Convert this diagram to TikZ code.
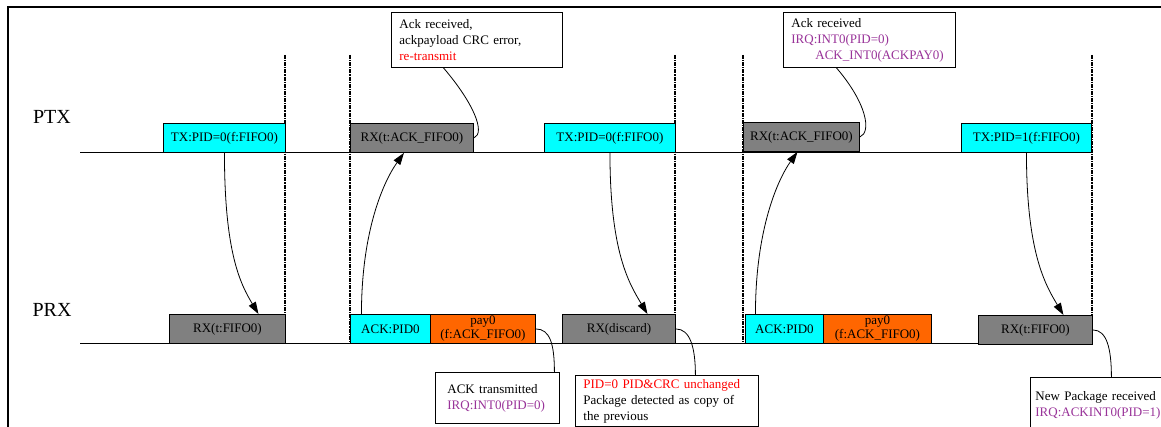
\documentclass[tikz,border=0pt]{standalone}
\usepackage{fontspec}
\setmainfont{Liberation Serif}
\usetikzlibrary{arrows.meta}
\definecolor{cyanc}{RGB}{0,255,255}
\definecolor{grayc}{RGB}{128,128,128}
\definecolor{orangec}{RGB}{255,102,0}
\definecolor{purplec}{RGB}{153,51,153}
\definecolor{redc}{RGB}{255,0,0}
\tikzset{
  blk/.style={draw=black, line width=0.9pt, minimum height=29pt, inner sep=0pt, anchor=north west, font=\fontsize{13}{14}\selectfont},
  txb/.style={blk, fill=cyanc},
  rxb/.style={blk, fill=grayc},
  payb/.style={blk, fill=orangec, align=center},
  note/.style={draw=black, line width=0.8pt, anchor=north west, align=left, inner xsep=8pt, inner ysep=0pt, font=\fontsize{13}{16}\selectfont},
  vdash/.style={line width=1.3pt, dash pattern=on 4pt off 1pt on 1.2pt off 1pt},
  axis/.style={line width=0.9pt},
  link/.style={line width=0.8pt},
  arr/.style={line width=0.8pt, -{Triangle[length=12pt,width=8pt]}},
  lab/.style={font=\fontsize{20}{20}\selectfont},
}
\begin{document}
\begin{tikzpicture}[x=1pt,y=-1pt]
\clip (0,0) rectangle (1161,427);
\fill[white] (0,0) rectangle (1161,427);
% frame
\draw[line width=2pt] (8,427) -- (8,7) -- (1161,7);
% labels
\node[lab] (ptx) at (52,117) {PTX};
\node[lab] (prx) at (52,310) {PRX};
% time lines
\coordinate (ptxs) at (80,152);
\coordinate (prxs) at (80,343);
\coordinate (ptxe) at (1091,152);
\coordinate (prxe) at (1092,343);
\draw[axis] (ptxs) -- (ptxe);
\draw[axis] (prxs) -- (prxe);
% dashed verticals
\coordinate (d1t) at (285,55); \coordinate (d1b) at (285,343);
\coordinate (d2t) at (350,55); \coordinate (d2b) at (350,343);
\coordinate (d3t) at (675,55); \coordinate (d3b) at (675,343);
\coordinate (d4t) at (743,55); \coordinate (d4b) at (743,343);
\coordinate (d5t) at (1092,55); \coordinate (d5b) at (1092,343);
\draw[vdash] (d1t) -- (d1b);
\draw[vdash] (d2t) -- (d2b);
\draw[vdash] (d3t) -- (d3b);
\draw[vdash] (d4t) -- (d4b);
\draw[vdash] (d5t) -- (d5b);
% PTX boxes
\node[txb, minimum width=122pt] (tx1) at (163,123) {TX:PID=0(f:FIFO0)};
\node[rxb, minimum width=123pt] (rx2) at (350,123) {RX(t:ACK\_FIFO0)};
\node[txb, minimum width=131pt] (tx2) at (544,123) {TX:PID=0(f:FIFO0)};
\node[rxb, minimum width=116pt] (rx4) at (743,122) {RX(t:ACK\_FIFO0)};
\node[txb, minimum width=130pt] (tx3) at (961,123) {TX:PID=1(f:FIFO0)};
% PRX boxes
\node[rxb, minimum width=116pt] (rx1) at (169,314) {RX(t:FIFO0)};
\node[txb, minimum width=80pt] (ack1) at (350,314) {ACK:PID0};
\node[payb, minimum width=105pt] (pay1) at (430,314) {pay0\\(f:ACK\_FIFO0)};
\node[rxb, minimum width=113pt] (rxd) at (562,314) {RX(discard)};
\node[txb, minimum width=78pt] (ack2) at (745,314) {ACK:PID0};
\node[payb, minimum width=108pt] (pay2) at (823,314) {pay0\\(f:ACK\_FIFO0)};
\node[rxb, minimum width=114pt] (rx5) at (978,315) {RX(t:FIFO0)};
% arrows
\draw[arr] (tx1.south) .. controls +(0,100) and +(-18,-30) .. ([xshift=31pt]rx1.north);
\draw[arr] ([xshift=-29pt]ack1.north) .. controls +(0,-84) and +(-20,28) .. ([xshift=-8pt]rx2.south);
\draw[arr] (tx2.south) .. controls +(0,100) and +(-18,-30) .. ([xshift=28.5pt]rxd.north);
\draw[arr] ([xshift=-29pt]ack2.north) .. controls +(0,-84) and +(-20,28) .. ([xshift=-4pt]rx4.south);
\draw[arr] (tx3.south) .. controls +(0,100) and +(-18,-30) .. ([xshift=28pt]rx5.north);
% notes
\node[note, text width=155pt, minimum height=55pt] (n1) at (391,12)
  {Ack received,\\ackpayload CRC error,\\\textcolor{redc}{re-transmit}};
\node[note, text width=156pt, minimum height=55pt] (n2) at (783,12)
  {Ack received\\\textcolor{purplec}{IRQ:INT0(PID=0)}\\\hspace*{24pt}\textcolor{purplec}{ACK\_INT0(ACKPAY0)}};
\node[note, inner xsep=12pt, text width=100pt, minimum height=51pt] (n3) at (435,372)
  {ACK transmitted\\\textcolor{purplec}{IRQ:INT0(PID=0)}};
\node[note, text width=167pt, minimum height=51pt] (n4) at (575,375)
  {\textcolor{redc}{PID=0 PID\&CRC unchanged}\\Package detected as copy of\\the previous};
\node[note, inner xsep=5pt, text width=140pt, minimum height=56pt] (n5) at (1030,377)
  {New Package received\\\textcolor{purplec}{IRQ:ACKINT0(PID=1)}};
% note links
\draw[link] ([xshift=-33.5pt]n1.south) .. controls +(30,35) and +(12,-5) .. (rx2.east);
\draw[link] ([xshift=-33pt]n2.south) .. controls +(30,35) and +(12,-5) .. (rx4.east);
\draw[link] (pay1.east) .. controls +(14,0) and +(0,-28) .. ([xshift=57pt]n3.north);
\draw[link] (rxd.east) .. controls +(14,0) and +(0,-28) .. ([xshift=28.5pt]n4.north);
\draw[link] (rx5.east) .. controls +(14,0) and +(0,-28) .. ([xshift=6pt]n5.north);
\end{tikzpicture}
\end{document}
